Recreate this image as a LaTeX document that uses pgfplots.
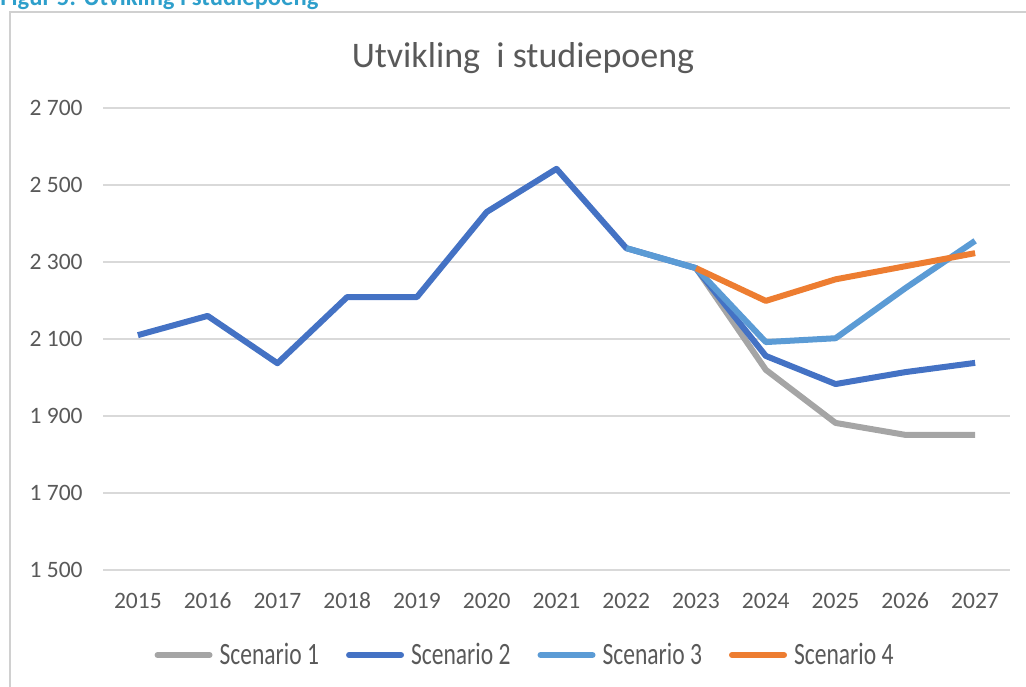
\documentclass[border=0pt]{standalone}
\usepackage{fontspec}
\setmainfont{Carlito}
\newfontfamily\legfont{Carlito}[FakeStretch=0.76]
\usepackage{pgfplots}
\pgfplotsset{compat=1.18}
\definecolor{scA}{HTML}{A5A5A5}
\definecolor{scB}{HTML}{4472C4}
\definecolor{scC}{HTML}{5B9BD5}
\definecolor{scD}{HTML}{ED7D31}
\definecolor{gridc}{HTML}{D9D9D9}
\definecolor{txt}{HTML}{595959}
\definecolor{capc}{HTML}{2E9FCB}
\definecolor{framec}{HTML}{D0D0D0}
\begin{document}
\begin{tikzpicture}
\useasboundingbox (0,0) rectangle (513pt,343pt);
\draw[framec, line width=0.75pt] (5pt,337pt) rectangle (520pt,-5pt);
\node[anchor=base west, inner sep=0, text=capc, font=\bfseries\fontsize{12.3}{14}\selectfont] at (0pt,340pt) {Figur 5: Utvikling i studiepoeng};
\node[anchor=base, inner sep=0, text=txt, font=\fontsize{18}{21}\selectfont] at (261.5pt,309pt) {Utvikling\ \ i studiepoeng};
\begin{axis}[
  at={(51.5pt,58pt)}, anchor=south west,
  scale only axis, width=453.5pt, height=231pt,
  xmin=2014.5, xmax=2027.5, ymin=1500, ymax=2700,
  axis line style={draw=none},
  major tick length=0pt,
  ymajorgrids, grid style={gridc, line width=0.75pt},
  ytick={1500,1700,...,2700},
  xtick={2015,...,2027},
  xticklabels={2015,2016,2017,2018,2019,2020,2021,2022,2023,2024,2025,2026,2027},
  /pgf/number format/assume math mode=true,
  /pgf/number format/1000 sep={\ },
  tick label style={text=txt, font=\fontsize{11.75}{13}\selectfont, inner sep=0pt},
  yticklabel style={anchor=east, xshift=-10pt},
  xticklabel style={anchor=base, yshift=-19pt},
  legend columns=4,
  legend style={draw=none, fill=none, at={(axis description cs:0.4653,-0.184)}, anchor=center,
    font=\legfont\fontsize{15.5}{17}\selectfont, text=txt, inner sep=0pt,
    nodes={inner sep=1pt},
    /tikz/every even column/.append style={column sep=12.5pt},
    /tikz/every odd column/.append style={column sep=2.5pt}},
  legend cell align=left,
  legend image code/.code={\draw[#1, line width=3pt, line cap=round] (0pt,0pt) -- (26pt,0pt);},
  every axis plot/.append style={line width=3pt, line join=round},
  clip=false,
]
\addplot[scA, mark=none] coordinates {(2023,2284) (2024,2020) (2025,1882) (2026,1851) (2027,1851)};
\addlegendentry{Scenario 1}
\addplot[scB, mark=none] coordinates {(2015,2110) (2016,2160) (2017,2037) (2018,2209) (2019,2209) (2020,2430) (2021,2542) (2022,2336) (2023,2284) (2024,2056) (2025,1983) (2026,2014) (2027,2038)};
\addlegendentry{Scenario 2}
\addplot[scC, mark=none] coordinates {(2022,2336) (2023,2284) (2024,2092) (2025,2102) (2026,2232) (2027,2355)};
\addlegendentry{Scenario 3}
\addplot[scD, mark=none] coordinates {(2023,2284) (2024,2199) (2025,2255) (2026,2289) (2027,2323)};
\addlegendentry{Scenario 4}
\end{axis}
\end{tikzpicture}
\end{document}
